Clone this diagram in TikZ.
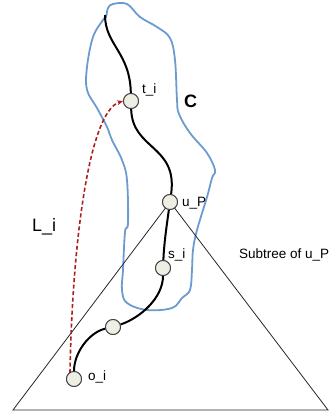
\documentclass[tikz,border=0pt]{standalone}
\usepackage{fontspec}
\setmainfont{Liberation Sans}
\usetikzlibrary{arrows.meta}
\definecolor{cblue}{RGB}{108,155,208}
\definecolor{cred}{RGB}{175,30,30}
\definecolor{cfill}{RGB}{238,238,228}
\begin{document}
\begin{tikzpicture}[x=1pt,y=-1pt,
  vtx/.style={circle,draw=black!75,fill=cfill,line width=0.9pt,minimum size=15pt,inner sep=0pt},
  pathline/.style={line width=2pt,black},
  lbl/.style={font=\fontsize{13.5}{15}\selectfont,inner sep=0pt,anchor=west},
  tri/.style={line width=0.8pt,black!85},
  region/.style={line width=1.8pt,cblue},
  jump/.style={line width=1.6pt,cred,dash pattern=on 4pt off 2.5pt,-{Stealth[length=6pt,width=5pt]}}]
\useasboundingbox (0,0) rectangle (330,413);
\coordinate (top) at (105,15);
\coordinate (bl) at (13,410);
\coordinate (br) at (328,410);
% blue region C
\draw[region] plot[smooth cycle,tension=0.6] coordinates {
 (113,4) (127,4) (140,17) (157,27) (170,38) (175,60) (177,100) (179,114)
 (190,133) (207,153) (215,170) (212,178) (207,197) (197,230) (193,250)
 (192,270) (190,290) (182,298) (172,308) (147,310) (127,303) (122,290)
 (123,270) (125,232) (128,223) (127,180) (122,160) (112,140) (107,127)
 (97,108) (87,90) (87,67) (93,37) (103,20) (106,17) (108,8)};
% nodes
\node[vtx] (ti) at (131,101) {};
\node[vtx] (uP) at (170,202) {};
\node[vtx] (si) at (163,268) {};
\node[vtx] (n4) at (113,327) {};
\node[vtx] (oi) at (74,379) {};
% triangle (subtree)
\draw[tri] (uP.center) -- (bl) -- (br) -- cycle;
% black path
\draw[pathline] (top) .. controls (105,45) and (130,52) .. (ti);
\draw[pathline] (ti) .. controls (132,150) and (178,145) .. (uP);
\draw[pathline] (uP) .. controls (166,230) and (164,245) .. (si);
\draw[pathline] (si) .. controls (163,298) and (140,318) .. (n4);
\draw[pathline] (n4) .. controls (90,332) and (74,352) .. (oi);
% red dashed jump
\coordinate (redstart) at (70,373);
\draw[jump] (redstart) .. controls (72,250) and (88,112) .. (ti.west);
% redraw nodes on top
\node[vtx] at (ti) {};
\node[vtx] at (uP) {};
\node[vtx] at (si) {};
\node[vtx] at (n4) {};
\node[vtx] at (oi) {};
% labels
\node[lbl] (lti) at (142,90) {t\_i};
\node[lbl,font=\fontsize{18}{20}\selectfont\bfseries] (lC) at (184,101) {C};
\node[lbl] (luP) at (182,203) {u\_P};
\node[lbl,font=\fontsize{18}{20}\selectfont] (lLi) at (32,227) {L\_i};
\node[lbl] (lsi) at (168,255) {s\_i};
\node[lbl] (lsub) at (239,255) {Subtree of u\_P};
\node[lbl] (loi) at (88,377) {o\_i};
\end{tikzpicture}
\end{document}
